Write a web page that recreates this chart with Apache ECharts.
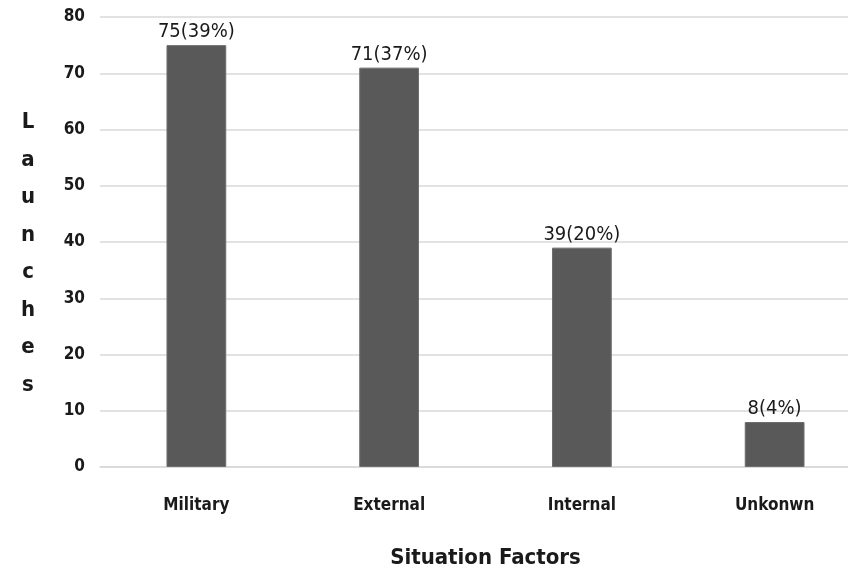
<!DOCTYPE html>
<html>
<head>
<meta charset="utf-8">
<script src="https://cdn.jsdelivr.net/npm/echarts@6/dist/echarts.min.js"></script>
<style>
  html, body { margin: 0; padding: 0; background: #fff; }
  #chart { width: 848px; height: 576px; }
</style>
</head>
<body>
<div id="chart"></div>
<script>
  const categories = ['Military', 'External', 'Internal', 'Unkonwn']
  const launches = [75, 71, 39, 8]
  const shares = ['39%', '37%', '20%', '4%']
  const yTicks = { min: 0, max: 80, interval: 10 }

  const narrow = '"Liberation Sans Narrow", "DejaVu Sans Condensed", sans-serif'

  const myChart = echarts.init(document.getElementById('chart'))
  const option = {
    animation: false,
    grid: { left: 100, right: -23, top: 17, bottom: 109, outerBoundsMode: 'none', containLabel: false },
    xAxis: {
      type: 'category',
      data: categories,
      axisLine: { show: true, lineStyle: { color: '#d9d9d9', width: 1.5 } },
      axisTick: { show: false },
      axisLabel: {
        color: '#1a1a1a',
        fontSize: 17,
        fontWeight: 'bold',
        fontFamily: narrow,
        margin: 30,
      },
      name: 'Situation Factors',
      nameLocation: 'middle',
      nameGap: 80,
      nameTextStyle: { color: '#1a1a1a', fontSize: 22, fontWeight: 'bold', fontFamily: narrow },
    },
    yAxis: {
      type: 'value',
      min: yTicks.min,
      max: yTicks.max,
      interval: yTicks.interval,
      axisLine: { show: false },
      axisTick: { show: false },
      axisLabel: {
        color: '#1a1a1a',
        fontSize: 17,
        fontWeight: 'bold',
        fontFamily: narrow,
        margin: 15,
      },
      splitLine: { lineStyle: { color: '#d9d9d9', width: 1.5 } },
      // empty first line pushes the stacked letters down a bit
      name: '{g| }\nL\na\nu\nn\nc\nh\ne\ns',
      nameLocation: 'middle',
      nameRotate: 0,
      nameGap: 72,
      nameTextStyle: {
        color: '#1a1a1a',
        fontSize: 22,
        fontWeight: 'bold',
        fontFamily: narrow,
        lineHeight: 37.5,
        align: 'center',
        rich: { g: { fontSize: 10, lineHeight: 24 } },
      },
    },
    series: [
      {
        type: 'bar',
        data: launches,
        barWidth: '31%',
        itemStyle: { color: '#595959', borderColor: '#6e6e6e', borderWidth: 1 },
        label: {
          show: true,
          position: 'top',
          distance: 3,
          color: '#1a1a1a',
          fontSize: 20,
          fontFamily: narrow,
          formatter: p => p.value + '(' + shares[p.dataIndex] + ')',
        },
      },
    ],
  }
  myChart.setOption(option)
</script>
</body>
</html>
